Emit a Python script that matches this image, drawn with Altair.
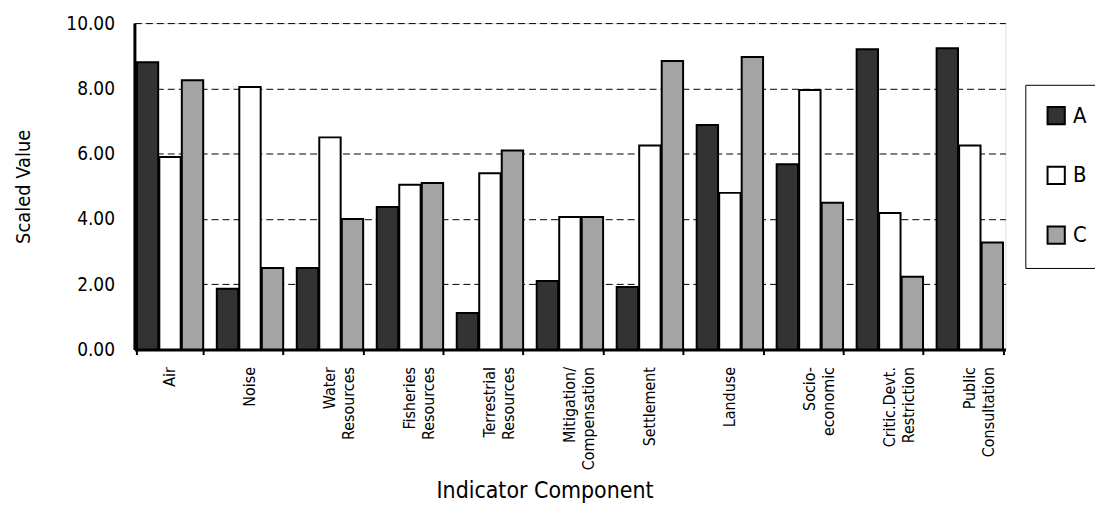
import altair as alt
import pandas as pd

categories = ["Air", "Noise", "Water\nResources", "Fisheries\nResources",
              "Terrestrial\nResources", "Mitigation/\nCompensation", "Settlement",
              "Landuse", "Socio-\neconomic", "Critic.Devt.\nRestriction", "Public\nConsultation"]
series = ["A", "B", "C"]
vals_a = [8.80, 1.86, 2.50, 4.37, 1.12, 2.10, 1.92, 6.88, 5.68, 9.20, 9.23]
vals_b = [5.90, 8.04, 6.50, 5.05, 5.40, 4.06, 6.25, 4.80, 7.95, 4.18, 6.25]
vals_c = [8.25, 2.50, 4.00, 5.10, 6.10, 4.06, 8.84, 8.96, 4.50, 2.23, 3.28]
fills = ["#333333", "#ffffff", "#a4a4a4"]

rows = []
for s, vals in zip(series, [vals_a, vals_b, vals_c]):
    for c, v in zip(categories, vals):
        rows.append({"Component": c, "Series": s, "Value": v})
df = pd.DataFrame(rows)

FONT = "'DejaVu Sans Condensed', 'Liberation Sans', sans-serif"

chart = alt.Chart(df).mark_bar(stroke="black", strokeWidth=2).encode(
    x=alt.X("Component:N", sort=categories,
            scale=alt.Scale(paddingInner=0.17, paddingOuter=0.03),
            axis=alt.Axis(title="Indicator Component", labelAngle=-90,
                          labelExpr="split(datum.label, '\\n')",
                          labelFont=FONT, labelFontSize=16, labelColor="black",
                          labelPadding=12, labelLineHeight=19,
                          titleFont=FONT, titleFontSize=23, titleFontWeight="normal",
                          titleColor="black", titlePadding=10,
                          titleX=412, titleAlign="center",
                          domainColor="black", domainWidth=3,
                          tickColor="black", tickBand="extent", tickSize=5, tickWidth=2)),
    xOffset=alt.XOffset("Series:N", sort=series, scale=alt.Scale(paddingInner=0.05)),
    y=alt.Y("Value:Q", scale=alt.Scale(domain=[0, 10]),
            axis=alt.Axis(title="Scaled Value", values=[0, 2, 4, 6, 8, 10], format=".2f",
                          labelFont=FONT, labelFontSize=19, labelColor="black",
                          labelPadding=20, ticks=False,
                          titleFont=FONT, titleFontSize=20, titleFontWeight="normal",
                          titleColor="black", titlePadding=32,
                          domainColor="black", domainWidth=3,
                          grid=True, gridColor="black", gridDash=[7, 4], gridWidth=1)),
    fill=alt.Fill("Series:N", sort=series,
                  scale=alt.Scale(domain=series, range=fills),
                  legend=alt.Legend(title=None, orient="none", legendX=895, legendY=62,
                                    symbolType="square", symbolSize=300,
                                    symbolStrokeColor="black", symbolStrokeWidth=2,
                                    labelFont=FONT, labelFontSize=22, labelColor="black",
                                    rowPadding=34, padding=20, strokeColor="black",
                                    labelOffset=6)),
).properties(
    width=875, height=328,
    autosize=alt.AutoSizeParams(type="none"),
    padding={"left": 127, "top": 14, "right": 90, "bottom": 165},
).configure_view(stroke=None).configure(background="white")

chart.save("out.html", embed_options={"renderer": "svg", "actions": False})
